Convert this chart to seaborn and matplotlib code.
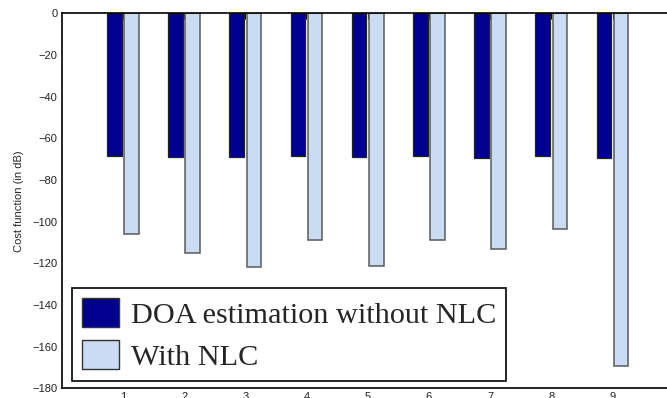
import matplotlib
matplotlib.use("Agg")
import matplotlib.pyplot as plt
import seaborn as sns
import pandas as pd

scenarios = [1, 2, 3, 4, 5, 6, 7, 8, 9]
without_nlc = [-68.6, -69.2, -68.8, -68.7, -69.1, -68.6, -69.3, -68.3, -69.3]
with_nlc = [-106.1, -114.9, -121.6, -108.8, -121.4, -108.8, -113.0, -103.7, -169.2]
series_names = ["DOA estimation without NLC", "With NLC"]
y_ticks = [0, -20, -40, -60, -80, -100, -120, -140, -160, -180]

df = pd.DataFrame({
    "scenario": scenarios * 2,
    "cost": without_nlc + with_nlc,
    "series": [series_names[0]] * len(scenarios) + [series_names[1]] * len(scenarios),
})

sns.set_theme(style="white")
plt.rcParams["font.family"] = ["Liberation Sans", "DejaVu Sans"]

fig = plt.figure(figsize=(6.67, 3.98), dpi=100)
ax = fig.add_axes([61.7 / 667, 1 - 388.3 / 398, 612 / 667, (388.3 - 13.3) / 398])

palette = {series_names[0]: "#00008F", series_names[1]: "#CADCF4"}
sns.barplot(data=df, x="scenario", y="cost", hue="series", palette=palette,
            native_scale=True, width=0.56, gap=0.15, ax=ax,
            edgecolor="#222222", linewidth=0.9, saturation=1, errorbar=None)

for patch in ax.patches:
    fc = patch.get_facecolor()
    if fc[0] > 0.5:
        patch.set_edgecolor("#5a5a5a")
        patch.set_linewidth(1.1)

ax.set_xlim(0, 10)
ax.set_ylim(-180, 0)
ax.set_xticks(scenarios)
ax.set_xticklabels([str(s) for s in scenarios])
ax.set_yticks(y_ticks)
ax.set_yticklabels(["0"] + ["\u2212%d" % (-v) for v in y_ticks[1:]])
ax.set_xlabel("")
ax.set_ylabel("Cost function (in dB)", fontsize=8, labelpad=6)
ax.tick_params(axis="both", direction="in", length=4, width=0.8, labelsize=8,
               top=True, right=True, color="black", labelcolor="#222222", pad=3)
for side in ["left", "right", "top", "bottom"]:
    ax.spines[side].set_visible(True)
    ax.spines[side].set_color("black")
    ax.spines[side].set_linewidth(1.2)

handles, labels = ax.get_legend_handles_labels()
if ax.legend_:
    ax.legend_.remove()
leg = fig.legend(handles, labels, loc="lower left",
                 bbox_to_anchor=(72 / 667, 1 - 380.7 / 398),
                 prop={"family": "Liberation Serif", "size": 21.8},
                 frameon=True, fancybox=False, framealpha=1, edgecolor="black",
                 handlelength=1.22, handleheight=1.1, handletextpad=0.42,
                 labelspacing=0.38, borderpad=0.32, borderaxespad=0)
leg.get_frame().set_linewidth(1.2)
for h in leg.legend_handles:
    h.set_edgecolor("#333333")
    h.set_linewidth(1.0)

fig.savefig("out.png", dpi=100)
